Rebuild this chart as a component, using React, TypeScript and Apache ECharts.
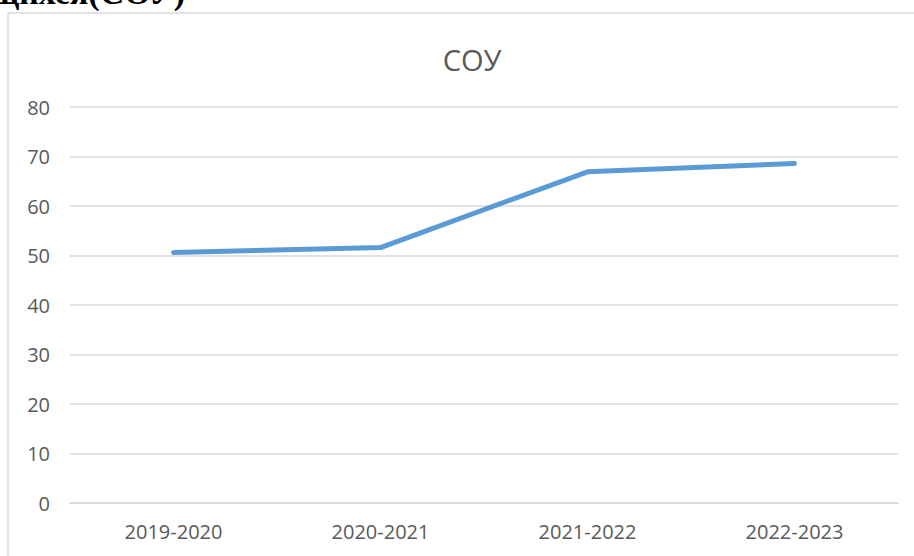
import React, { useEffect, useRef } from "react";
import * as echarts from "echarts";

const categories = ["2019-2020", "2020-2021", "2021-2022", "2022-2023"];
const values = [50.6, 51.6, 66.9, 68.6];
const chartTitle = "СОУ";
const headingText = "учащихся(СОУ)";

export default function App() {
  const ref = useRef<HTMLDivElement>(null);
  useEffect(() => {
    if (!ref.current) return;
    const chart = echarts.init(ref.current, null, { renderer: "svg" });
    chart.setOption({
      animation: false,
      backgroundColor: "#ffffff",
      title: {
        text: chartTitle,
        left: 467,
        top: 40,
        textAlign: "center",
        textStyle: {
          fontFamily: "Open Sans",
          fontSize: 29,
          fontWeight: "normal",
          color: "#595959",
        },
      },
      graphic: [
        {
          type: "rect",
          shape: { x: 8, y: 13, width: 1000, height: 700 },
          style: { fill: "none", stroke: "#d9d9d9", lineWidth: 1.5 },
          silent: true,
          z: -1,
        },
        {
          type: "text",
          x: 185,
          y: 9,
          style: {
            text: headingText,
            fontFamily: "Liberation Serif",
            fontWeight: "bold",
            fontSize: 34,
            fill: "#000000",
            textAlign: "right",
            verticalAlign: "bottom",
          },
        },
      ],
      grid: { left: 70, right: 16, top: 107, bottom: 53 },
      xAxis: {
        type: "category",
        data: categories,
        boundaryGap: true,
        axisLine: { show: true, lineStyle: { color: "#d9d9d9", width: 1.5 } },
        axisTick: { show: false },
        axisLabel: {
          fontFamily: "Open Sans",
          fontSize: 20,
          color: "#595959",
          margin: 18,
        },
      },
      yAxis: {
        type: "value",
        min: 0,
        max: 80,
        interval: 10,
        axisLine: { show: false },
        axisTick: { show: false },
        splitLine: { lineStyle: { color: "#d9d9d9", width: 1.5 } },
        axisLabel: {
          fontFamily: "Open Sans",
          fontSize: 20,
          color: "#595959",
          margin: 20,
        },
      },
      series: [
        {
          type: "line",
          data: values,
          symbol: "none",
          lineStyle: { color: "#5b9bd5", width: 5, cap: "round", join: "round" },
        },
      ],
    });
    return () => chart.dispose();
  }, []);
  return (
    <div
      ref={ref}
      style={{ position: "fixed", left: 0, top: 0, width: 914, height: 556 }}
    />
  );
}
